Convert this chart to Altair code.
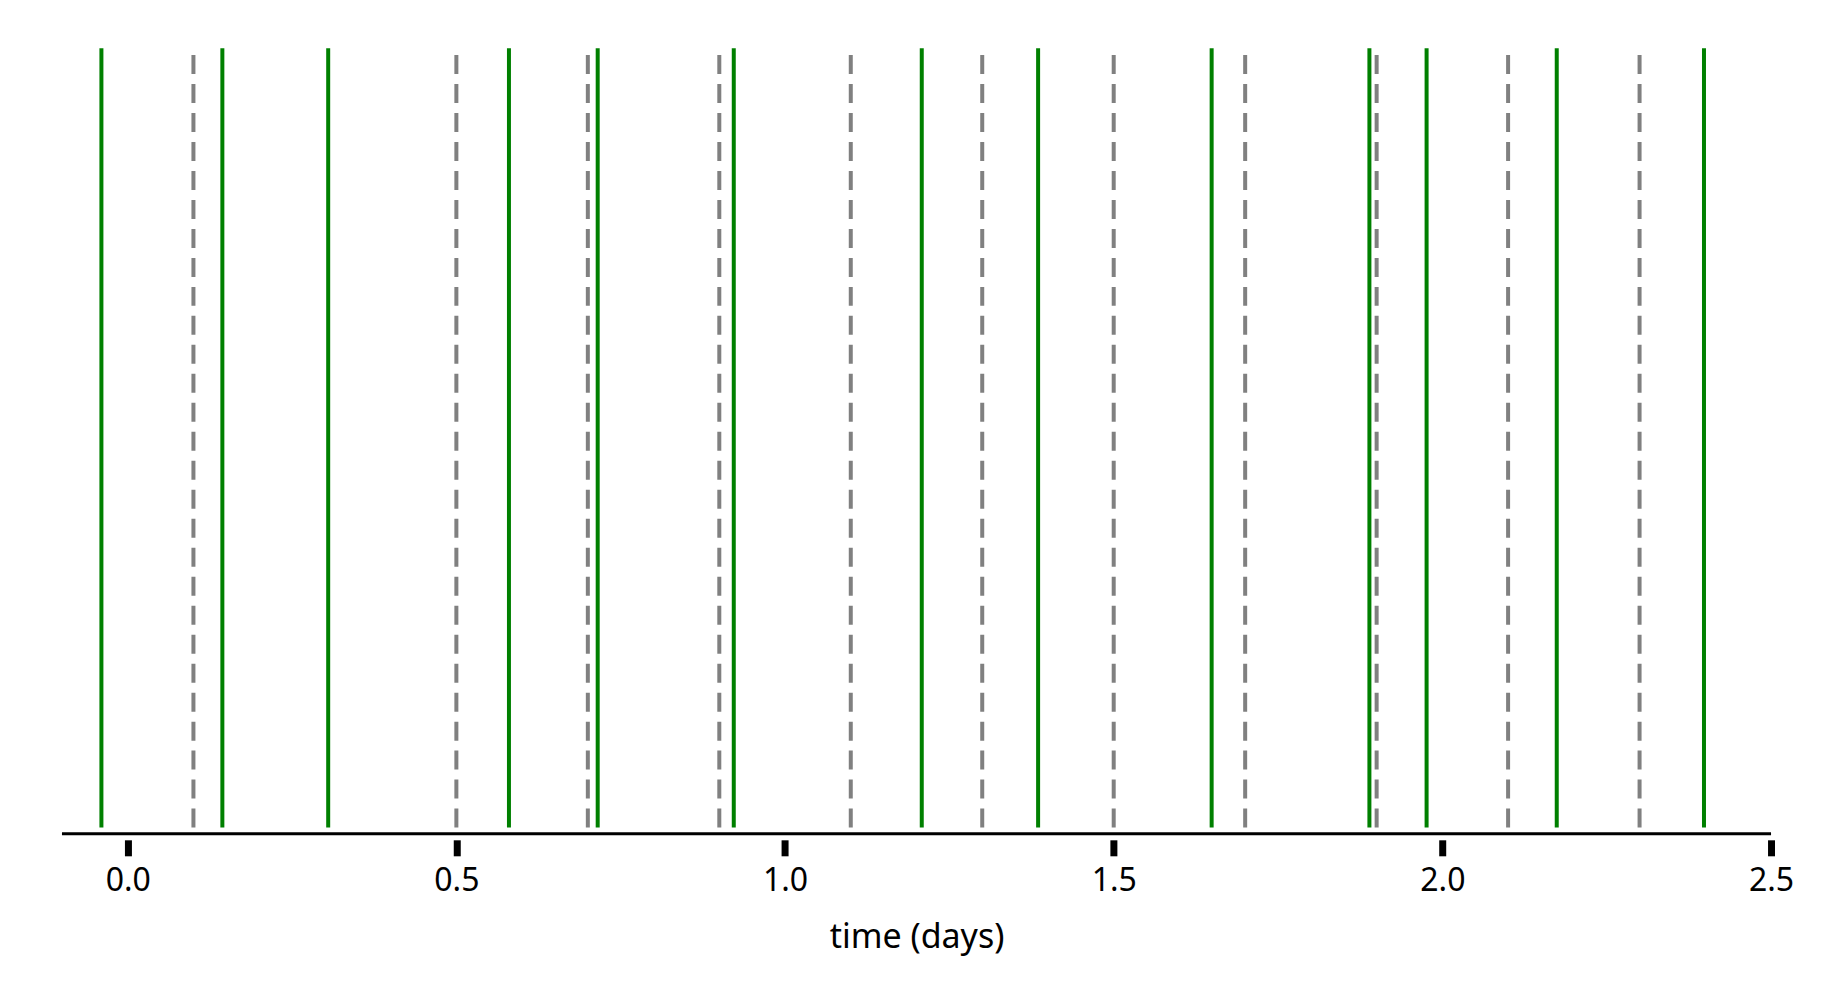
import altair as alt
import pandas as pd

# event times (days)
green_times = [-0.04, 0.144, 0.305, 0.580, 0.715, 0.922, 1.208, 1.385, 1.649,
               1.889, 1.976, 2.174, 2.398]
gray_times = [0.1, 0.5, 0.7, 0.9, 1.1, 1.3, 1.5, 1.7, 1.9, 2.1, 2.3]
tick_values = [0.0, 0.5, 1.0, 1.5, 2.0, 2.5]
x_domain = [-0.1, 2.5]
y_domain = [-0.008, 1.0]
y_low, y_high = 0.0, 1.0

FONT = "Noto Sans"

green_df = pd.DataFrame({"t": green_times, "y0": y_low, "y1": y_high})
gray_df = pd.DataFrame({"t": gray_times, "y0": y_low, "y1": y_high})

xscale = alt.Scale(domain=x_domain, nice=False, zero=False)
yscale = alt.Scale(domain=y_domain, nice=False, zero=False)

xaxis = alt.Axis(
    title="time (days)", values=tick_values, format=".1f",
    domain=False, grid=False, offset=6,
    tickSize=16, tickWidth=7, tickColor="black",
    labelFont=FONT, labelFontSize=32, labelColor="black", labelPadding=10,
    labelFlush=False,
    titleFont=FONT, titleFontSize=34, titleFontWeight="normal", titleColor="black",
    titlePadding=24,
)

gray = alt.Chart(gray_df).mark_rule(color="#808080", strokeWidth=4, strokeDash=[19, 10]).encode(
    x=alt.X("t:Q", scale=xscale, axis=xaxis),
    y=alt.Y("y0:Q", scale=yscale, axis=None),
    y2="y1:Q",
)
green = alt.Chart(green_df).mark_rule(color="#008000", strokeWidth=4).encode(
    x=alt.X("t:Q", scale=xscale),
    y=alt.Y("y0:Q", scale=yscale, axis=None),
    y2="y1:Q",
)
baseline = alt.Chart(pd.DataFrame({"a": [0]})).mark_rule(color="black", strokeWidth=3).encode(
    x=alt.datum(x_domain[0]), x2=alt.datum(x_domain[1]), y=alt.datum(y_domain[0]),
)

chart = alt.layer(gray, green, baseline).properties(
    width=1710, height=786,
    autosize=alt.AutoSizeParams(type="none"),
    padding={"left": 54, "top": 40, "right": 60, "bottom": 150},
).configure(background="white", view=alt.ViewConfig(stroke=None))

chart.save("out.html", embed_options={"renderer": "svg", "actions": False})
